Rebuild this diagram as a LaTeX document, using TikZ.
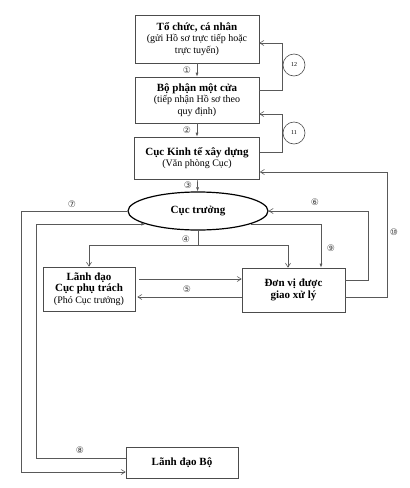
\documentclass[tikz,border=0pt]{standalone}
\usepackage{fontspec}
\setmainfont{Liberation Serif}
\newfontfamily\numfont{DejaVu Sans}
\usetikzlibrary{positioning, arrows.meta, shapes}

\newcommand{\hd}[1]{{\fontsize{11}{12}\selectfont\bfseries #1}}

\begin{document}
\begin{tikzpicture}[
        x=1pt, y=-1pt,
        every node/.style={inner sep=1pt},
        box/.style={draw=black!70, rectangle, align=center, font=\fontsize{10}{11.5}\selectfont, line width=0.6pt},
        line/.style={draw=black!65, line width=0.6pt},
        opn/.style={line, -{Straight Barb[length=4pt,width=5pt]}},
        fil/.style={line, -{Latex[length=4pt,width=3pt]}},
        num/.style={font=\numfont\fontsize{9}{10}\selectfont, text=black!75},
        ring/.style={draw=black!70, circle, minimum size=22pt, font=\fontsize{6}{7}\selectfont, line width=0.6pt}
    ]
    \useasboundingbox (0,0) rectangle (410,488);

    % Tổ chức, cá nhân
    \node[box, minimum width=124pt, minimum height=48pt] (org) at (197,39) {\hd{Tổ chức, cá nhân}\\(gửi Hồ sơ trực tiếp hoặc\\trực tuyến)};

    % Bộ phận một cửa
    \node[box, minimum width=124pt, minimum height=46pt] (onestop) at (197,100) {\hd{Bộ phận một cửa}\\(tiếp nhận Hồ sơ theo\\quy định)};

    % Cục Kinh tế xây dựng
    \node[box, minimum width=125pt, minimum height=42pt] (cuc) at (197,158) {\hd{Cục Kinh tế xây dựng}\\(Văn phòng Cục)};

    % Cục trưởng
    \node[draw, ellipse, line width=1.2pt, minimum width=140pt, minimum height=38pt, font=\fontsize{11}{12}\selectfont\bfseries] (chief) at (198,211) {Cục trưởng};

    % Lãnh đạo Cục
    \node[box, minimum width=92pt, minimum height=44pt] (deputy) at (89,289) {\hd{Lãnh đạo}\\\hd{Cục phụ trách}\\(Phó Cục trưởng)};

    % Đơn vị được giao xử lý
    \node[box, minimum width=103pt, minimum height=44pt] (unit) at (293.5,290) {\hd{Đơn vị được}\\\hd{giao xử lý}};

    % Lãnh đạo Bộ
    \node[box, minimum width=112pt, minimum height=31pt] (ministry) at (182,462.5) {\hd{Lãnh đạo Bộ}};

    % Hauptweg 1-3
    \draw[fil] (org) -- (onestop);
    \node[num] (n1) at (187,70) {①};
    \draw[fil] (onestop) -- (cuc);
    \node[num] (n2) at (187,130) {②};
    \draw[fil] (cuc) -- (chief);
    \node[num] (n3) at (188,185) {③};

    % Rückläufe 11 und 12
    \draw[opn] (onestop.east |- 0,90) -- (282,90) -- (282,43) -- (org.east |- 0,43);
    \node[ring] (r12) at (294,65) {12};
    \draw[opn] (cuc.east |- 0,152) -- (282,152) -- (282,114) -- (onestop.east |- 0,114);
    \node[ring] (r11) at (294,133) {11};

    % Verteilung 4
    \coordinate (split) at (198,245);
    \draw[line] (chief.south) -- (split);
    \draw[opn] (split) -| (deputy.north);
    \draw[opn] (split) -| ([xshift=-5.5pt]unit.north);
    \node[num] (n4) at (186,239) {④};

    % Weg 9
    \draw[fil] (chief.-14) -| ([xshift=27.5pt]unit.north);
    \node[num] (n9) at (331,248) {⑨};

    % Wege 5
    \draw[opn, shorten <=4pt] (deputy.east |- 0,279) -- (unit.west |- 0,279);
    \draw[opn, shorten >=2pt] (unit.west |- 0,297) -- (deputy.east |- 0,297);
    \node[num] (n5) at (187,289) {⑤};

    % Weg 6
    \draw[opn] (unit.east |- 0,280) -| (368,211) -- (chief.east);
    \node[num] (n6) at (315,202) {⑥};

    % Weg 10
    \draw[opn] (unit.east |- 0,297) -| (387,172) -- (cuc.east |- 0,172);
    \node[num] (n10) at (394,232) {⑩};

    % Wege 7 und 8
    \draw[opn] (chief.west) -| (21,472) -- (ministry.west |- 0,472);
    \node[num] (n7) at (72,204) {⑦};
    \draw[fil] (ministry.west |- 0,458) -| (chief.194 -| 36,0) -- (chief.194);
    \node[num] (n8) at (80,450) {⑧};

\end{tikzpicture}
\end{document}
